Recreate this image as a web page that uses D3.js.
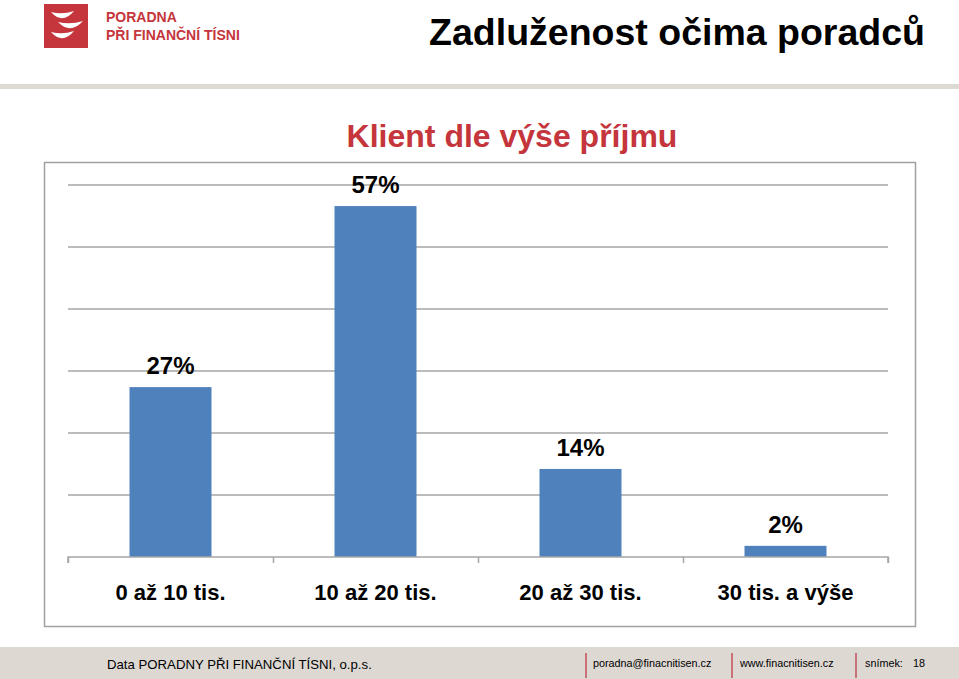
<!DOCTYPE html>
<html>
<head>
<meta charset="utf-8">
<script src="https://cdn.jsdelivr.net/npm/d3@7.9.0/dist/d3.min.js"></script>
<style>
  body { margin: 0; background: #fff; }
  svg { display: block; font-family: "Liberation Sans", Arial, sans-serif; }
</style>
</head>
<body>
<svg id="chart" width="959" height="679"></svg>
<script>
// chart data
const categories = ['0 až 10 tis.', '10 až 20 tis.', '20 až 30 tis.', '30 tis. a výše'];
const shares = [27.4, 56.6, 14.2, 1.8];
const gridTicks = [0, 10, 20, 30, 40, 50, 60];

const svg = d3.select('#chart');
const red = '#c5353c';

// header: logo + title
const logo = svg.append('g').attr('transform', 'translate(44,4)');
logo.append('rect').attr('width', 44).attr('height', 44).attr('fill', red);
// three white crescents
[[7, 8, 23], [14, 18, 25], [7, 28, 23]].forEach(([x, y, w]) => {
  logo.append('path')
    .attr('d', `M${x},${y} Q${x + w / 2},${y + 3} ${x + w},${y - 1} Q${x + w / 2},${y + 13} ${x},${y} Z`)
    .attr('fill', '#fff');
});
svg.append('text').attr('x', 106).attr('y', 22)
  .attr('fill', red).attr('font-size', 14).attr('font-weight', 'bold')
  .text('PORADNA');
svg.append('text').attr('x', 106).attr('y', 40)
  .attr('fill', red).attr('font-size', 14).attr('font-weight', 'bold')
  .text('PŘI FINANČNÍ TÍSNI');
svg.append('text').attr('x', 677).attr('y', 45)
  .attr('text-anchor', 'middle').attr('font-size', 37.5).attr('font-weight', 'bold')
  .text('Zadluženost očima poradců');
svg.append('rect').attr('x', 0).attr('y', 84).attr('width', 959).attr('height', 5).attr('fill', '#ddd9d3');

// chart title
svg.append('text').attr('x', 512).attr('y', 147)
  .attr('text-anchor', 'middle').attr('font-size', 32).attr('font-weight', 'bold')
  .attr('fill', red).text('Klient dle výše příjmu');

// chart frame
svg.append('rect').attr('x', 44.5).attr('y', 162.5).attr('width', 871).attr('height', 464)
  .attr('fill', 'none').attr('stroke', '#a0a0a0').attr('stroke-width', 1.5);

const x = d3.scaleBand().domain(categories).range([68, 888]).paddingInner(0.6).paddingOuter(0.3);
const y = d3.scaleLinear().domain([0, 60]).range([557, 185]);

// gridlines
svg.append('g').selectAll('line').data(gridTicks.slice(1)).join('line')
  .attr('x1', 68).attr('x2', 888)
  .attr('y1', d => y(d)).attr('y2', d => y(d))
  .attr('stroke', '#a6a6a6').attr('stroke-width', 1.5);

// bars
svg.append('g').selectAll('rect').data(shares).join('rect')
  .attr('x', (d, i) => x(categories[i]))
  .attr('y', d => y(d))
  .attr('width', x.bandwidth())
  .attr('height', d => y(0) - y(d))
  .attr('fill', '#4f81bd');

// value labels
svg.append('g').selectAll('text').data(shares).join('text')
  .attr('x', (d, i) => x(categories[i]) + x.bandwidth() / 2)
  .attr('y', d => y(d) - 13)
  .attr('text-anchor', 'middle').attr('font-size', 24).attr('font-weight', 'bold')
  .text(d => Math.round(d) + '%');

// category axis
const step = (888 - 68) / categories.length;
const xAxis = d3.axisBottom(d3.scalePoint().domain(d3.range(categories.length + 1)).range([68, 888]))
  .tickSize(6).tickFormat('');
const ax = svg.append('g').attr('transform', 'translate(0,557)').call(xAxis);
ax.select('.domain').attr('stroke', '#a6a6a6').attr('stroke-width', 1.5).attr('d', 'M68,6V0H888V6');
ax.selectAll('.tick line').attr('stroke', '#a6a6a6').attr('stroke-width', 1.5);

svg.append('g').selectAll('text').data(categories).join('text')
  .attr('x', (d, i) => 68 + step * (i + 0.5))
  .attr('y', 600)
  .attr('text-anchor', 'middle').attr('font-size', 22).attr('font-weight', 'bold')
  .text(d => d);

// footer
svg.append('rect').attr('x', 0).attr('y', 647).attr('width', 959).attr('height', 32).attr('fill', '#ddd8d2');
svg.append('text').attr('x', 107).attr('y', 669).attr('font-size', 13.2)
  .text('Data PORADNY PŘI FINANČNÍ TÍSNI, o.p.s.');
[586, 732, 856].forEach(px => {
  svg.append('line').attr('x1', px).attr('x2', px).attr('y1', 653).attr('y2', 678)
    .attr('stroke', '#c0505a').attr('stroke-width', 1.5);
});
const foot = [[593, 'poradna@finacnitisen.cz'], [740, 'www.finacnitisen.cz'], [865, 'snímek:'], [913, '18']];
foot.forEach(([px, t]) => {
  svg.append('text').attr('x', px).attr('y', 667).attr('font-size', 10.8).text(t);
});
</script>
</body>
</html>
